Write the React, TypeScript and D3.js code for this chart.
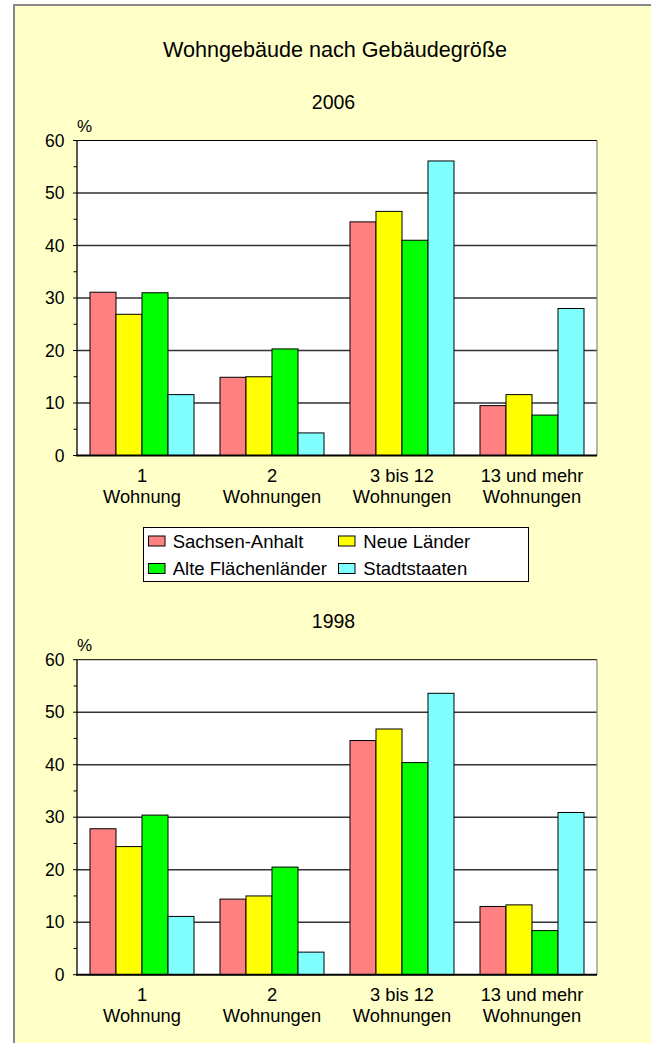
import React from "react";
import * as d3 from "d3";

const categories = [["1", "Wohnung"], ["2", "Wohnungen"], ["3 bis 12", "Wohnungen"], ["13 und mehr", "Wohnungen"]];
const seriesNames = ["Sachsen-Anhalt", "Neue Länder", "Alte Flächenländer", "Stadtstaaten"];
const seriesColors = ["#FF8080", "#FFFF00", "#00FF00", "#80FFFF"];

const values2006 = [
  [31.1, 14.9, 44.5, 9.5],
  [26.9, 15.0, 46.5, 11.6],
  [31.0, 20.3, 41.0, 7.7],
  [11.6, 4.3, 56.1, 28.0],
];
const values1998 = [
  [27.8, 14.4, 44.6, 13.0],
  [24.4, 15.0, 46.8, 13.3],
  [30.4, 20.5, 40.4, 8.4],
  [11.1, 4.3, 53.6, 30.9],
];
const yTicks = [0, 10, 20, 30, 40, 50, 60];
const yMinorTicks = [5, 15, 25, 35, 45, 55];

const FONT = "'Liberation Sans', Arial, Helvetica, sans-serif";

function Chart({ year, values, top }: { year: string; values: number[][]; top: number }) {
  const left = 77, right = 597, bottom = top + 315;
  const x = d3.scaleBand<number>().domain(d3.range(categories.length)).range([left, right]).padding(0);
  const bw = x.bandwidth();
  const xs = d3.scaleBand<number>().domain(d3.range(seriesNames.length)).range([bw * 0.1, bw * 0.9]).padding(0);
  const y = d3.scaleLinear().domain([0, 60]).range([bottom, top]);
  return (
    <g>
      <text x={333.5} y={top - 32} fontSize={19.5} textAnchor="middle" fontFamily={FONT} fill="#000">{year}</text>
      <text x={77} y={top - 8.3} fontSize={17} fontFamily={FONT} fill="#000">%</text>
      <rect x={left} y={top} width={right - left} height={bottom - top} fill="#fff" />
      {yTicks.filter((t) => t > 0 && t < 60).map((t) => (
        <line key={"g" + t} x1={left} x2={right} y1={y(t)} y2={y(t)} stroke="#333" strokeWidth={1.4} />
      ))}
      <line x1={left} x2={right} y1={top} y2={top} stroke="#000" strokeWidth={1} />
      <line x1={right} x2={right} y1={top} y2={bottom} stroke="#888" strokeWidth={1.2} />
      {values.map((sv, si) =>
        sv.map((v, ci) => (
          <rect
            key={si + "-" + ci}
            x={(x(ci) as number) + (xs(si) as number)}
            y={y(v)}
            width={xs.bandwidth()}
            height={y(0) - y(v)}
            fill={seriesColors[si]}
            stroke="#000"
            strokeWidth={1}
          />
        ))
      )}
      <line x1={left} x2={left} y1={top} y2={bottom} stroke="#000" strokeWidth={1.3} />
      <line x1={left - 1} x2={right} y1={bottom} y2={bottom} stroke="#000" strokeWidth={2} />
      {yTicks.map((t) => (
        <g key={"t" + t}>
          <line x1={left - 4} x2={left} y1={y(t)} y2={y(t)} stroke="#000" strokeWidth={1} />
          <text x={64.5} y={y(t) + 6.2} fontSize={17.5} textAnchor="end" fontFamily={FONT} fill="#000">{t}</text>
        </g>
      ))}
      {yMinorTicks.map((t) => (
        <line key={"m" + t} x1={left - 3.5} x2={left} y1={y(t)} y2={y(t)} stroke="#000" strokeWidth={1} />
      ))}
      {categories.map((c, ci) => (
        <g key={"c" + ci}>
          <text x={(x(ci) as number) + bw / 2} y={bottom + 26.2} fontSize={18.3} textAnchor="middle" fontFamily={FONT} fill="#000">{c[0]}</text>
          <text x={(x(ci) as number) + bw / 2} y={bottom + 47.5} fontSize={18.3} textAnchor="middle" fontFamily={FONT} fill="#000">{c[1]}</text>
        </g>
      ))}
    </g>
  );
}

export default function App() {
  const legendPos = [
    { sx: 148.5, tx: 172.7, sy: 536, ty: 548.3 },
    { sx: 338.5, tx: 363.3, sy: 536, ty: 548.3 },
    { sx: 148.5, tx: 172.7, sy: 563.5, ty: 575 },
    { sx: 338.5, tx: 363.3, sy: 563.5, ty: 575 },
  ];
  return (
    <svg width={651} height={1043} style={{ position: "absolute", left: 0, top: 0 }}>
      <rect x={0} y={0} width={651} height={1043} fill="#fff" />
      <rect x={14} y={5} width={700} height={1100} fill="#FFFFC8" stroke="#888" strokeWidth={2} />
      <text x={335} y={57} fontSize={21.6} textAnchor="middle" fontFamily={FONT} fill="#000">Wohngebäude nach Gebäudegröße</text>
      <Chart year="2006" values={values2006} top={140.5} />
      <Chart year="1998" values={values1998} top={659.7} />
      <rect x={143.5} y={527.5} width={385} height={54} fill="#fff" stroke="#000" strokeWidth={1} />
      {seriesNames.map((n, i) => (
        <g key={n}>
          <rect x={legendPos[i].sx} y={legendPos[i].sy} width={16.5} height={10} fill={seriesColors[i]} stroke="#000" strokeWidth={1} />
          <text x={legendPos[i].tx} y={legendPos[i].ty} fontSize={18.5} fontFamily={FONT} fill="#000">{n}</text>
        </g>
      ))}
    </svg>
  );
}
